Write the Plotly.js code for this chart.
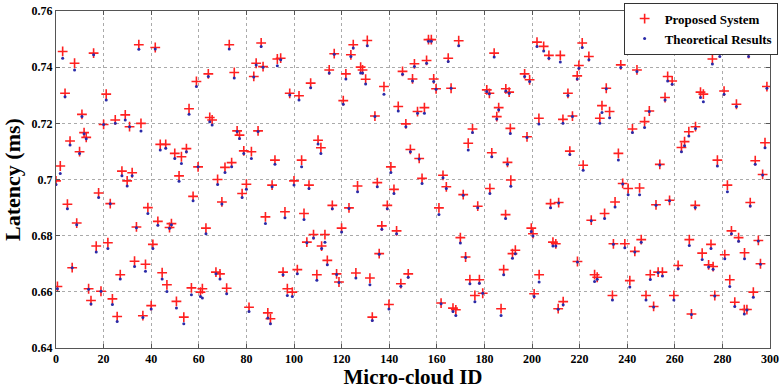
<!DOCTYPE html>
<html>
<head>
<meta charset="utf-8">
<script src="https://cdn.plot.ly/plotly-3.0.1.min.js"></script>
<style>html,body{margin:0;padding:0;background:#fff;}#chart{width:783px;height:389px;}</style>
</head>
<body>
<div id="chart"></div>
<script>
const microCloudId = [0.0,0.6,1.8,2.8,3.8,4.8,5.9,6.8,7.8,8.7,9.9,10.9,11.8,12.7,13.7,14.7,15.8,16.9,17.9,18.9,20.0,21.1,21.8,22.8,23.7,24.9,25.7,27.0,27.7,29.1,29.9,30.9,32.0,33.0,33.8,34.8,35.7,36.5,
37.6,38.6,40.0,40.7,41.7,42.8,43.8,44.6,46.1,46.6,47.7,48.5,49.9,50.6,51.7,52.7,53.7,54.8,55.9,56.9,57.6,59.0,59.7,60.7,61.5,63.0,64.0,64.6,65.6,67.2,67.9,68.9,69.7,71.0,71.7,72.8,73.8,
74.9,76.1,77.1,78.2,78.9,80.0,81.1,82.1,83.1,84.1,84.9,86.2,87.0,88.0,89.0,90.1,90.8,92.0,93.0,94.4,95.4,96.2,97.2,98.2,99.3,100.0,101.4,102.1,103.2,104.2,105.4,106.3,107.0,108.2,109.6,110.1,111.3,
111.6,113.0,114.0,114.8,116.1,116.9,117.9,118.9,120.0,120.7,121.8,123.1,123.9,124.9,126.0,126.7,128.0,128.8,130.1,130.8,131.9,132.9,134.0,135.0,135.8,136.9,137.8,139.2,139.9,140.7,142.0,143.1,143.8,144.9,145.6,147.0,148.0,148.9,
149.8,150.6,151.9,152.6,153.8,154.8,155.7,156.5,157.7,158.7,159.7,160.9,161.8,162.6,164.0,164.8,166.0,166.8,168.0,169.2,169.9,171.1,172.1,173.2,173.9,175.0,176.0,177.2,177.9,179.3,181.0,182.1,182.3,183.1,184.1,185.2,186.0,187.0,
188.1,189.0,188.9,189.7,190.4,190.9,191.1,191.8,193.0,196.9,197.9,199.0,199.7,200.4,200.9,202.1,202.9,203.0,204.9,207.1,207.8,208.8,210.0,211.0,211.2,211.9,213.0,213.1,215.1,215.9,217.0,219.0,219.1,219.7,221.1,221.5,223.9,224.9,
226.3,227.4,228.5,229.4,230.5,231.2,232.6,233.8,234.2,234.9,236.3,237.3,238.1,239.0,240.4,241.1,242.2,243.2,244.1,245.2,245.9,247.3,247.9,249.3,249.7,251.1,252.1,253.0,253.7,254.8,255.9,257.0,257.8,258.9,259.6,260.5,261.4,
262.8,264.1,265.9,266.1,267.0,268.6,268.7,270.8,271.5,272.0,274.2,275.2,275.8,276.1,276.8,277.9,278.9,280.7,281.0,282.1,283.1,283.8,285.2,285.9,286.8,289.2,289.3,290.3,291.0,291.7,293.0,293.8,295.1,296.0,296.9,297.9,298.7];

const proposedSystem = [0.6995,0.6619,0.7048,0.7456,0.7307,0.6912,0.7137,0.6686,0.7414,0.6845,0.7099,0.7232,0.7167,0.7150,0.6611,0.6569,0.7450,0.6763,0.6952,0.6602,0.7196,0.7304,0.6775,0.6914,0.6575,0.7212,0.6512,0.6661,0.7030,0.7230,0.6995,0.7188,0.7024,0.6709,0.6831,0.7480,0.7200,0.6515,
0.6698,0.6900,0.6551,0.6769,0.7470,0.6851,0.7125,0.6668,0.7125,0.6625,0.6829,0.6843,0.7093,0.6566,0.7013,0.7081,0.6510,0.7110,0.7252,0.6614,0.6940,0.7349,0.7045,0.6599,0.6611,0.6827,0.7376,0.7221,0.7212,0.6670,0.7000,0.6664,0.6920,0.7043,0.6613,0.7480,0.7060,
0.7381,0.7173,0.7158,0.6950,0.7102,0.6983,0.6545,0.7099,0.7367,0.7414,0.7173,0.7486,0.7402,0.6867,0.6525,0.6504,0.6980,0.7069,0.7429,0.7432,0.6670,0.6885,0.6611,0.7307,0.6599,0.6995,0.6679,0.7298,0.7069,0.6879,0.6777,0.6980,0.7343,0.6804,0.6661,0.7140,0.7113,
0.6763,0.6804,0.6712,0.7390,0.6908,0.7448,0.6664,0.6635,0.6827,0.7281,0.7376,0.6899,0.7444,0.7480,0.6667,0.6977,0.7400,0.7390,0.7357,0.7495,0.6649,0.6510,0.7226,0.6989,0.6736,0.6835,0.7331,0.6908,0.6555,0.7045,0.6965,0.6817,0.7260,0.6629,0.7385,0.7198,0.6664,0.7107,
0.7358,0.7412,0.7242,0.7075,0.7004,0.7256,0.7424,0.7498,0.7498,0.7358,0.7323,0.6899,0.6560,0.7015,0.6974,0.7432,0.7325,0.6542,0.6536,0.7494,0.6793,0.6946,0.6724,0.7129,0.6643,0.7180,0.6587,0.6905,0.6643,0.6595,0.7319,0.7307,0.6968,0.7095,0.7450,0.7224,0.7256,0.6540,
0.6679,0.7323,0.6875,0.7061,0.7311,0.7182,0.6998,0.6736,0.6748,0.7376,0.7152,0.7355,0.6827,0.6807,0.6593,0.7489,0.7218,0.6661,0.7474,0.7442,0.6914,0.6777,0.6771,0.6540,0.6918,0.7442,0.7214,0.6565,0.7307,0.7101,0.7226,0.7369,0.6708,0.7406,0.7486,0.7051,0.7438,0.6855,
0.6661,0.6652,0.7218,0.7263,0.6879,0.7325,0.7242,0.6587,0.6771,0.6920,0.7093,0.7408,0.6986,0.6771,0.6968,0.6640,0.7180,0.6744,0.7390,0.6970,0.6786,0.7206,0.6587,0.7244,0.6661,0.6548,0.6910,0.6670,0.7054,0.6670,0.7292,0.7367,0.6926,0.7351,0.6587,0.7468,0.6694,
0.7114,0.7135,0.7170,0.6786,0.6521,0.6908,0.7188,0.7311,0.6738,0.7304,0.6696,0.6769,0.7429,0.6690,0.6587,0.7069,0.7460,0.7315,0.6732,0.6980,0.6643,0.6817,0.6563,0.7268,0.6793,0.6537,0.6739,0.6537,0.7448,0.6918,0.6599,0.7067,0.6783,0.6700,0.7018,0.7131,0.7331];

const theoreticalResults = [0.6982,0.6611,0.7021,0.7432,0.7295,0.6896,0.7123,0.6686,0.7390,0.6839,0.7093,0.7224,0.7163,0.7145,0.6609,0.6557,0.7444,0.6742,0.6936,0.6602,0.7196,0.7283,0.6754,0.6914,0.6555,0.7200,0.6494,0.6646,0.7013,0.7212,0.6977,0.7188,0.7013,0.6690,0.6828,0.7464,0.7173,0.6509,
0.6673,0.6879,0.6539,0.6754,0.7465,0.6837,0.7105,0.6646,0.7111,0.6601,0.6826,0.6839,0.7075,0.6542,0.6994,0.7057,0.6486,0.7099,0.7232,0.6590,0.6924,0.7331,0.7045,0.6583,0.6578,0.6807,0.7367,0.7206,0.7194,0.6664,0.6982,0.6646,0.6913,0.7025,0.6593,0.7465,0.7045,
0.7361,0.7171,0.7146,0.6936,0.7093,0.6965,0.6530,0.7075,0.7365,0.7408,0.7171,0.7474,0.7400,0.6843,0.6507,0.6486,0.6974,0.7054,0.7405,0.7426,0.6661,0.6864,0.6587,0.7301,0.6583,0.6980,0.6664,0.7283,0.7045,0.6858,0.6775,0.6968,0.7327,0.6792,0.6641,0.7126,0.7093,
0.6754,0.6777,0.6696,0.7379,0.6896,0.7446,0.6662,0.6633,0.6813,0.7268,0.7358,0.6897,0.7438,0.7468,0.6649,0.6956,0.7379,0.7379,0.7340,0.7476,0.6625,0.6498,0.7224,0.6974,0.6734,0.6823,0.7304,0.6896,0.6539,0.7025,0.6950,0.6807,0.7244,0.6620,0.7375,0.7188,0.6652,0.7099,
0.7351,0.7402,0.7236,0.7073,0.6986,0.7236,0.7414,0.7492,0.7492,0.7349,0.7321,0.6875,0.6558,0.7006,0.6968,0.7420,0.7325,0.6530,0.6516,0.7476,0.6774,0.6944,0.6722,0.7105,0.6629,0.7167,0.6565,0.6899,0.6631,0.6595,0.7313,0.7305,0.6950,0.7081,0.7436,0.7215,0.7248,0.6516,
0.6661,0.7315,0.6861,0.7054,0.7307,0.7164,0.6976,0.6720,0.6736,0.7367,0.7150,0.7349,0.6815,0.6799,0.6583,0.7474,0.7198,0.6635,0.7458,0.7432,0.6899,0.6763,0.6763,0.6538,0.6916,0.7418,0.7200,0.6554,0.7299,0.7089,0.7224,0.7358,0.6706,0.7396,0.7470,0.7033,0.7426,0.6853,
0.6637,0.6645,0.7200,0.7239,0.6861,0.7323,0.7220,0.6571,0.6769,0.6902,0.7069,0.7399,0.6984,0.6757,0.6946,0.6617,0.7167,0.6742,0.7385,0.6946,0.6777,0.7185,0.6571,0.7242,0.6644,0.6546,0.6908,0.6668,0.7052,0.6656,0.7283,0.7351,0.6924,0.7339,0.6571,0.7466,0.6682,
0.7099,0.7120,0.7155,0.6765,0.6519,0.6900,0.7182,0.7292,0.6715,0.7277,0.6688,0.6754,0.7411,0.6680,0.6585,0.7048,0.7438,0.7304,0.6718,0.6956,0.6619,0.6807,0.6548,0.7260,0.6780,0.6521,0.6718,0.6535,0.7438,0.6906,0.6581,0.7054,0.6781,0.6698,0.7016,0.7113,0.7325];

const xTickVals = [0,20,40,60,80,100,120,140,160,180,200,220,240,260,280,300];
const xTickText = ["0","20","40","60","80","100","120","140","160","180","200","220","240","260","280","300"];
const yTickVals = [0.64,0.66,0.68,0.70,0.72,0.74,0.76];
const yTickText = ["0.64","0.66","0.68","0.7","0.72","0.74","0.76"];

const serif = "Liberation Serif, Times New Roman, serif";

const traces = [
  {
    x: microCloudId, y: proposedSystem, name: "Proposed System",
    type: "scatter", mode: "markers",
    marker: {symbol: "cross-thin", size: 7, color: "#ff2020", line: {color: "#ff2020", width: 1.6}}
  },
  {
    x: microCloudId, y: theoreticalResults, name: "Theoretical Results",
    type: "scatter", mode: "markers",
    marker: {symbol: "circle", size: 3, color: "#2a2aa8"}
  }
];

const axisCommon = {
  showline: true, mirror: "allticks", linecolor: "#555", linewidth: 1,
  ticks: "inside", ticklen: 4, tickcolor: "#555",
  showgrid: true, gridcolor: "#aaa", griddash: "dot", gridwidth: 1,
  zeroline: false,
  tickfont: {family: serif, size: 12, color: "#000", weight: "bold"}
};

const layout = {
  width: 783, height: 389,
  margin: {l: 56, r: 13, t: 11, b: 41, autoexpand: false},
  paper_bgcolor: "#fff", plot_bgcolor: "#fff",
  showlegend: true,
  xaxis: Object.assign({}, axisCommon, {
    range: [0, 300], tickvals: xTickVals, ticktext: xTickText, automargin: false,
    title: {text: "Micro-cloud ID", font: {family: serif, size: 21, color: "#000", weight: "bold"}, standoff: 6}
  }),
  yaxis: Object.assign({}, axisCommon, {
    range: [0.64, 0.76], tickvals: yTickVals, ticktext: yTickText, automargin: false,
    title: {text: "Latency (ms)", font: {family: serif, size: 22, color: "#000", weight: "bold"}, standoff: 4}
  }),
  legend: {
    x: 0.795, y: 1.025, xanchor: "left", yanchor: "top",
    bgcolor: "#fff", bordercolor: "#333", borderwidth: 1,
    font: {family: serif, size: 13, color: "#000", weight: "bold"},
    tracegroupgap: 0, itemwidth: 30
  }
};

Plotly.newPlot("chart", traces, layout, {displayModeBar: false, staticPlot: true});
</script>
</body>
</html>
